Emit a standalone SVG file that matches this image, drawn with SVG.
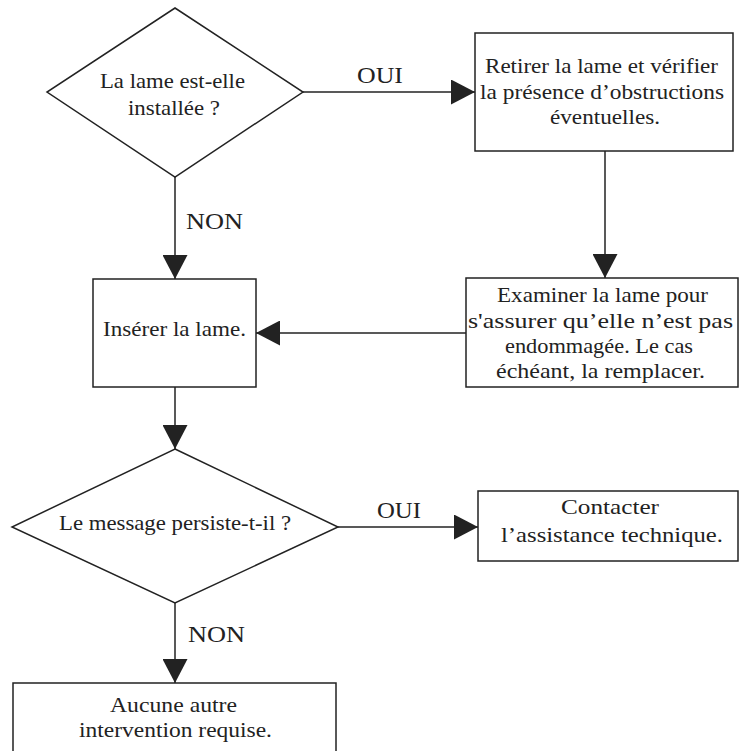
<svg xmlns="http://www.w3.org/2000/svg" width="740" height="751" viewBox="0 0 740 751">
  <defs>
    <style>
      .shape { fill: #ffffff; stroke: #222222; stroke-width: 1.5; }
      .link { fill: none; stroke: #222222; stroke-width: 1.5; }
      .lbl { font-family: "Liberation Serif", "DejaVu Serif", serif; font-size: 22px; fill: #222222; text-anchor: middle; }
      .edge { font-family: "Liberation Serif", "DejaVu Serif", serif; font-size: 23px; fill: #222222; }
    </style>
    <marker id="arrow" viewBox="0 0 24 25" refX="24" refY="12.5" markerWidth="24" markerHeight="25" markerUnits="userSpaceOnUse" orient="auto">
      <path d="M0,0 L24,12.5 L0,25 Z" fill="#222222"/>
    </marker>
  </defs>
  <rect width="740" height="751" fill="#ffffff"/>

  <!-- connectors -->
  <g id="connectors">
    <line class="link" x1="303" y1="92" x2="475" y2="92" marker-end="url(#arrow)"/>
    <line class="link" x1="175" y1="177" x2="175" y2="279" marker-end="url(#arrow)"/>
    <line class="link" x1="605" y1="151" x2="605" y2="278" marker-end="url(#arrow)"/>
    <line class="link" x1="466" y1="333" x2="256" y2="333" marker-end="url(#arrow)"/>
    <line class="link" x1="175" y1="387" x2="175" y2="449" marker-end="url(#arrow)"/>
    <line class="link" x1="338" y1="527" x2="478" y2="527" marker-end="url(#arrow)"/>
    <line class="link" x1="175" y1="603" x2="175" y2="683" marker-end="url(#arrow)"/>
    <text class="edge" x="357" y="83" textLength="46" lengthAdjust="spacingAndGlyphs">OUI</text>
    <text class="edge" x="186" y="229" textLength="57" lengthAdjust="spacingAndGlyphs">NON</text>
    <text class="edge" x="377" y="518" textLength="44" lengthAdjust="spacingAndGlyphs">OUI</text>
    <text class="edge" x="188" y="642" textLength="57" lengthAdjust="spacingAndGlyphs">NON</text>
  </g>

  <!-- decision: blade installed? -->
  <g id="q-installee">
    <polygon class="shape" points="175,8 303,92 175,177 47,92"/>
    <text class="lbl" x="172.5" y="88" textLength="145" lengthAdjust="spacingAndGlyphs">La lame est-elle</text>
    <text class="lbl" x="174" y="115" textLength="92" lengthAdjust="spacingAndGlyphs">installée ?</text>
  </g>

  <!-- remove and check -->
  <g id="retirer">
    <rect class="shape" x="475" y="33" width="258" height="118"/>
    <text class="lbl" x="601.5" y="73" textLength="233" lengthAdjust="spacingAndGlyphs">Retirer la lame et vérifier</text>
    <text class="lbl" x="602" y="99" textLength="244" lengthAdjust="spacingAndGlyphs">la présence d’obstructions</text>
    <text class="lbl" x="605" y="124" textLength="110" lengthAdjust="spacingAndGlyphs">éventuelles.</text>
  </g>

  <!-- insert -->
  <g id="inserer">
    <rect class="shape" x="93" y="279" width="163" height="108"/>
    <text class="lbl" x="174.5" y="336" textLength="143" lengthAdjust="spacingAndGlyphs">Insérer la lame.</text>
  </g>

  <!-- examine -->
  <g id="examiner">
    <rect class="shape" x="466" y="278" width="272" height="109"/>
    <text class="lbl" x="602.5" y="302" textLength="211" lengthAdjust="spacingAndGlyphs">Examiner la lame pour</text>
    <text class="lbl" x="600.5" y="328" textLength="265" lengthAdjust="spacingAndGlyphs">s'assurer qu’elle n’est pas</text>
    <text class="lbl" x="599" y="353" textLength="188" lengthAdjust="spacingAndGlyphs">endommagée. Le cas</text>
    <text class="lbl" x="600.5" y="378" textLength="209" lengthAdjust="spacingAndGlyphs">échéant, la remplacer.</text>
  </g>

  <!-- decision: message persists? -->
  <g id="q-persiste">
    <polygon class="shape" points="175,449 338,527 175,603 12,527"/>
    <text class="lbl" x="175" y="530" style="font-size:21px" textLength="232" lengthAdjust="spacingAndGlyphs">Le message persiste-t-il ?</text>
  </g>

  <!-- contact support -->
  <g id="contacter">
    <rect class="shape" x="478" y="491" width="260" height="70"/>
    <text class="lbl" x="610" y="514" textLength="98" lengthAdjust="spacingAndGlyphs">Contacter</text>
    <text class="lbl" x="612" y="542" textLength="222" lengthAdjust="spacingAndGlyphs">l’assistance technique.</text>
  </g>

  <!-- nothing else -->
  <g id="aucune">
    <rect class="shape" x="13" y="683" width="323" height="80"/>
    <text class="lbl" x="173.5" y="712" textLength="127" lengthAdjust="spacingAndGlyphs">Aucune autre</text>
    <text class="lbl" x="175.5" y="737" textLength="193" lengthAdjust="spacingAndGlyphs">intervention requise.</text>
  </g>
</svg>
